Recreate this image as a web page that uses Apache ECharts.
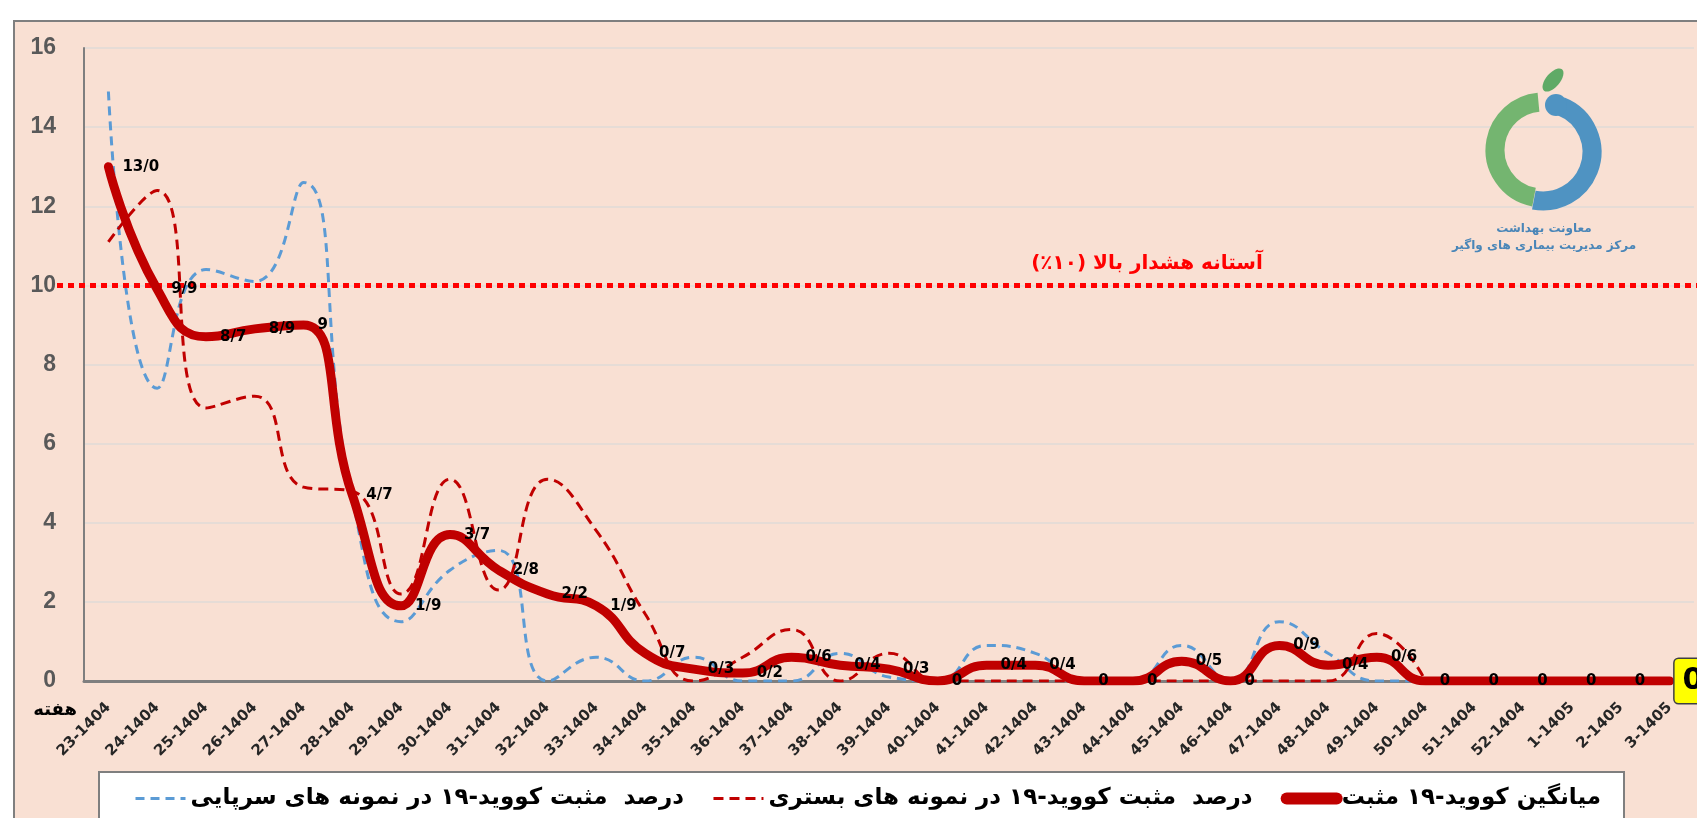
<!DOCTYPE html>
<html>
<head>
<meta charset="utf-8">
<script src="https://cdn.jsdelivr.net/npm/echarts@6/dist/echarts.min.js"></script>
<style>
html, body { margin: 0; padding: 0; background: #fff; }
#chart { width: 1697px; height: 818px; }
</style>
</head>
<body>
<div id="chart"></div>
<script>
var weeks = ['23-1404', '24-1404', '25-1404', '26-1404', '27-1404', '28-1404', '29-1404', '30-1404',
    '31-1404', '32-1404', '33-1404', '34-1404', '35-1404', '36-1404', '37-1404', '38-1404', '39-1404',
    '40-1404', '41-1404', '42-1404', '43-1404', '44-1404', '45-1404', '46-1404', '47-1404', '48-1404',
    '49-1404', '50-1404', '51-1404', '52-1404', '1-1405', '2-1405', '3-1405'];

// outpatient samples (blue dashed)
var outpatient = [14.9, 7.4, 10.4, 10.1, 12.6, 4.6, 1.5, 2.8, 3.3, 0, 0.6, 0, 0.6, 0, 0, 0.7, 0.1,
    0, 0.9, 0.7, 0, 0, 0.9, 0, 1.5, 0.7, 0, 0, null, null, null, null, null];

// inpatient samples (red dashed)
var inpatient = [11.1, 12.4, 6.9, 7.2, 4.9, 4.8, 2.2, 5.1, 2.3, 5.1, 3.8, 1.7, 0, 0.6, 1.3, 0, 0.7,
    0, 0, 0, 0, 0, 0, 0, 0, 0, 1.2, 0, null, null, null, null, null];

// average (thick red)
var average = [13.0, 9.9, 8.7, 8.9, 9.0, 4.7, 1.9, 3.7, 2.8, 2.2, 1.9, 0.7, 0.3, 0.2, 0.6, 0.4, 0.3,
    0, 0.4, 0.4, 0, 0, 0.5, 0, 0.9, 0.4, 0.6, 0, 0, 0, 0, 0, 0];
var averageLabels = ['13/0', '9/9', '8/7', '8/9', '9', '4/7', '1/9', '3/7', '2/8', '2/2', '1/9', '0/7',
    '0/3', '0/2', '0/6', '0/4', '0/3', '0', '0/4', '0/4', '0', '0', '0/5', '0', '0/9', '0/4', '0/6',
    '0', '0', '0', '0', '0', '0'];

var threshold = 10;
var thresholdLabel = '\u202Bآستانه هشدار بالا (۱۰٪)\u202C';
var yMin = 0, yMax = 16, yStep = 2;

var outName = 'درصد  مثبت کووید-۱۹ در نمونه های سرپایی';
var inName = 'درصد  مثبت کووید-۱۹ در نمونه های بستری';
var avgName = 'میانگین کووید-۱۹ مثبت';
var axisName = 'هفته';
var logoLines = ['معاونت بهداشت', 'مرکز مدیریت بیماری های واگیر'];

var FONT = 'DejaVu Sans';
var chart = echarts.init(document.getElementById('chart'));

var avgData = average.map(function (v, i) {
    if (i === average.length - 1) {
        return {
            value: v,
            label: {
                fontSize: 30, backgroundColor: '#FFFF00', borderColor: '#404040', borderWidth: 1.5,
                borderRadius: 4, padding: [8, 8, 6, 8], distance: 4
            }
        };
    }
    return v;
});

var option = {
    backgroundColor: '#ffffff',
    animation: false,
    graphic: {
        elements: [
            {
                type: 'rect', z: -100, silent: true,
                shape: {x: 14, y: 21, width: 1720, height: 860},
                style: {fill: '#F9E0D3', stroke: '#7F7F7F', lineWidth: 2}
            },
            {
                type: 'rect', z: 1, silent: true,
                shape: {x: 99, y: 772, width: 1525, height: 80},
                style: {fill: '#ffffff', stroke: '#7F7F7F', lineWidth: 2}
            },
            // logo
            {
                type: 'arc', z: 1, silent: true,
                shape: {cx: 1543, cy: 150, r: 48, startAngle: Math.PI * 0.56, endAngle: Math.PI * 1.47, clockwise: true},
                style: {stroke: '#74B570', lineWidth: 19, fill: null}
            },
            {
                type: 'arc', z: 1, silent: true,
                shape: {cx: 1543, cy: 152, r: 49, startAngle: -Math.PI * 0.38, endAngle: Math.PI * 0.56, clockwise: true},
                style: {stroke: '#4F93C2', lineWidth: 19, fill: null}
            },
            {
                type: 'circle', z: 1, silent: true,
                shape: {cx: 1556, cy: 105, r: 11},
                style: {fill: '#4F93C2'}
            },
            {
                type: 'ellipse', z: 1, silent: true, x: 1553, y: 80, rotation: -0.7,
                shape: {cx: 0, cy: 0, rx: 7, ry: 14},
                style: {fill: '#5FAA66'}
            },
            {
                type: 'text', z: 1, silent: true, x: 1544, y: 229,
                style: {text: logoLines[0], fill: '#4A86B8', font: 'bold 12px "' + FONT + '"', align: 'center', verticalAlign: 'middle'}
            },
            {
                type: 'text', z: 1, silent: true, x: 1544, y: 246,
                style: {text: logoLines[1], fill: '#4A86B8', font: 'bold 12px "' + FONT + '"', align: 'center', verticalAlign: 'middle'}
            }
        ]
    },
    legend: {
        z: 5,
        left: 129,
        top: 782,
        itemGap: 28,
        itemWidth: 50,
        itemHeight: 14,
        itemStyle: {opacity: 0},
        textStyle: {fontFamily: FONT, fontWeight: 'bold', fontSize: 23, color: '#000'},
        data: [
            {name: outName, lineStyle: {width: 3}},
            {name: inName, lineStyle: {width: 3}},
            {name: avgName, lineStyle: {width: 12, cap: 'round'}}
        ]
    },
    grid: [
        {left: 84, right: 3, top: 48, bottom: 137},
        {left: 57, right: 0, top: 48, bottom: 137}
    ],
    xAxis: [
        {
            type: 'category',
            data: weeks,
            boundaryGap: true,
            name: axisName,
            nameLocation: 'start',
            nameGap: 7,
            nameTextStyle: {fontFamily: FONT, fontWeight: 'bold', fontSize: 18, color: '#000', verticalAlign: 'top', padding: [20, 0, 0, 0]},
            axisLine: {lineStyle: {color: '#7F7F7F', width: 3}},
            axisTick: {show: false},
            axisLabel: {interval: 0, rotate: 45, margin: 24, fontFamily: FONT, fontWeight: 'bold', fontSize: 15, color: '#262626'},
            splitLine: {show: false}
        },
        {type: 'value', gridIndex: 1, min: 0, max: 1, show: false}
    ],
    yAxis: [
        {
            type: 'value',
            min: yMin, max: yMax, interval: yStep,
            axisLine: {show: true, lineStyle: {color: '#7F7F7F', width: 2}},
            axisTick: {show: false},
            axisLabel: {margin: 28, fontFamily: 'Liberation Sans', fontWeight: 'bold', fontSize: 23, color: '#595959'},
            splitLine: {lineStyle: {color: '#E6DCD6', width: 2}}
        },
        {type: 'value', gridIndex: 1, min: yMin, max: yMax, show: false}
    ],
    series: [
        {
            name: '_threshold', type: 'line', xAxisIndex: 1, yAxisIndex: 1, data: [], z: 3,
            markLine: {
                silent: true, symbol: 'none',
                lineStyle: {color: '#FF0000', type: [6, 5], width: 5, cap: 'butt'},
                label: {
                    position: 'insideMiddleTop', distance: 12, offset: [270, 0], formatter: thresholdLabel,
                    fontFamily: FONT, fontWeight: 'bold', fontSize: 20, color: '#FF0000'
                },
                data: [{yAxis: threshold}]
            }
        },
        {
            name: outName, type: 'line', data: outpatient, smooth: 0.5, symbol: 'none', z: 4,
            lineStyle: {color: '#5B9BD5', width: 3, type: [9, 6]},
            itemStyle: {color: '#5B9BD5'}
        },
        {
            name: inName, type: 'line', data: inpatient, smooth: 0.5, symbol: 'none', z: 4,
            lineStyle: {color: '#C00000', width: 3, type: [10, 6]},
            itemStyle: {color: '#C00000'}
        },
        {
            name: avgName, type: 'line', data: avgData, smooth: 0.5, z: 5,
            symbol: 'circle', symbolSize: 2, showSymbol: true,
            lineStyle: {color: '#C00000', width: 9, cap: 'round', join: 'round'},
            itemStyle: {color: '#C00000'},
            label: {
                show: true, position: 'right', distance: 13,
                fontFamily: FONT, fontWeight: 'bold', fontSize: 15, color: '#000',
                formatter: function (p) { return averageLabels[p.dataIndex]; }
            }
        }
    ]
};
chart.setOption(option);
</script>
</body>
</html>
